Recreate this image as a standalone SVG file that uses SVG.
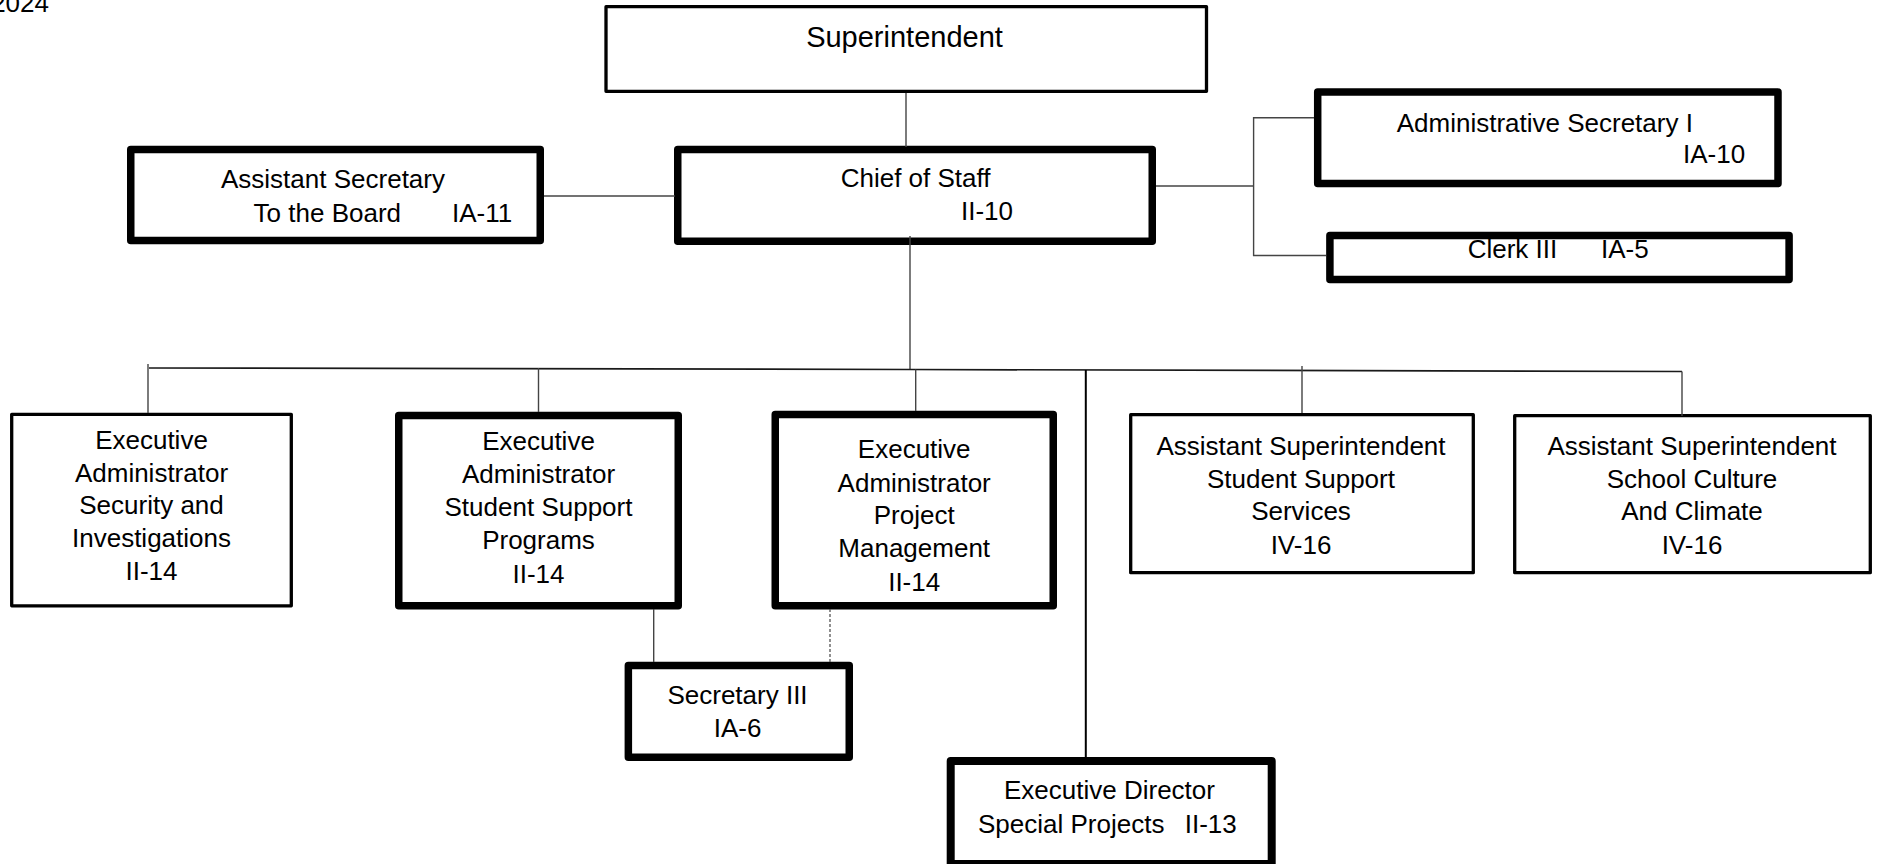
<svg xmlns="http://www.w3.org/2000/svg" width="1879" height="864" viewBox="0 0 1879 864">
  <style>
    .box { fill: #fff; stroke: #000; stroke-linejoin: round; }
    .thin { stroke-width: 3.3; }
    .thick { stroke-width: 7.5; }
    .t { font-family: "Liberation Sans", Arial, sans-serif; font-size: 26px; fill: #000; }
    .c { text-anchor: middle; }
    .title { font-size: 29px; }
    .wire { stroke: #444; stroke-width: 1.4; fill: none; }
    .bus { stroke: #1a1a1a; stroke-width: 1.7; fill: none; }
    .dash { stroke: #555; stroke-width: 1.3; stroke-dasharray: 3 2; fill: none; }
  </style>
  <rect width="1879" height="864" fill="#fff"/>

  <!-- date label, clipped at the page edge -->
  <text class="t" x="49" y="12" text-anchor="end">2024</text>

  <g id="superintendent">
    <rect class="box thin" x="606" y="6.7" width="600.5" height="84.6"/>
    <text class="t c title" x="904.5" y="47.3">Superintendent</text>
  </g>

  <g id="chief-of-staff">
    <rect class="box thick" x="677.75" y="149.5" width="474.5" height="91.75"/>
    <text class="t" x="840.7" y="187">Chief of Staff</text>
    <text class="t" x="961" y="220">II-10</text>
  </g>

  <g id="assistant-secretary-board">
    <rect class="box thick" x="130.75" y="149.5" width="409.5" height="91"/>
    <text class="t" x="221" y="188.3">Assistant Secretary</text>
    <text class="t" y="221.7"><tspan x="253.6">To the Board</tspan> <tspan x="452">IA-11</tspan></text>
  </g>

  <g id="administrative-secretary">
    <rect class="box thick" x="1317.7" y="92" width="460.3" height="91.6"/>
    <text class="t" x="1396.7" y="131.7">Administrative Secretary I</text>
    <text class="t" x="1683" y="163.3">IA-10</text>
  </g>

  <g id="clerk-iii">
    <rect class="box thick" x="1329.9" y="235.5" width="459.2" height="44"/>
    <text class="t" y="258.3"><tspan x="1467.7">Clerk III</tspan> <tspan x="1601">IA-5</tspan></text>
  </g>

  <g id="exec-admin-security">
    <rect class="box thin" x="11.7" y="414.3" width="279.6" height="191.5"/>
    <text class="t c" x="151.5" y="449">Executive</text>
    <text class="t c" x="151.5" y="481.7">Administrator</text>
    <text class="t c" x="151.5" y="514">Security and</text>
    <text class="t c" x="151.5" y="546.7">Investigations</text>
    <text class="t c" x="151.5" y="580">II-14</text>
  </g>

  <g id="exec-admin-student-support">
    <rect class="box thick" x="398.75" y="415.5" width="279.5" height="190.3"/>
    <text class="t c" x="538.5" y="450">Executive</text>
    <text class="t c" x="538.5" y="483">Administrator</text>
    <text class="t c" x="538.5" y="516">Student Support</text>
    <text class="t c" x="538.5" y="549">Programs</text>
    <text class="t c" x="538.5" y="582.5">II-14</text>
  </g>

  <g id="exec-admin-project-management">
    <rect class="box thick" x="775.25" y="414.5" width="278" height="191.3"/>
    <text class="t c" x="914.2" y="458">Executive</text>
    <text class="t c" x="914.2" y="491.7">Administrator</text>
    <text class="t c" x="914.2" y="523.5">Project</text>
    <text class="t c" x="914.2" y="557">Management</text>
    <text class="t c" x="914.2" y="590.5">II-14</text>
  </g>

  <g id="asst-supt-student-support">
    <rect class="box thin" x="1130.7" y="414.7" width="342.6" height="158"/>
    <text class="t c" x="1301" y="455">Assistant Superintendent</text>
    <text class="t c" x="1301" y="487.5">Student Support</text>
    <text class="t c" x="1301" y="520">Services</text>
    <text class="t c" x="1301" y="554">IV-16</text>
  </g>

  <g id="asst-supt-school-culture">
    <rect class="box thin" x="1514.7" y="415.7" width="355.6" height="157"/>
    <text class="t c" x="1692" y="455">Assistant Superintendent</text>
    <text class="t c" x="1692" y="487.5">School Culture</text>
    <text class="t c" x="1692" y="520">And Climate</text>
    <text class="t c" x="1692" y="554">IV-16</text>
  </g>

  <g id="secretary-iii">
    <rect class="box thick" x="628.35" y="665.5" width="220.9" height="91.75"/>
    <text class="t c" x="737.5" y="704">Secretary III</text>
    <text class="t c" x="737.5" y="737">IA-6</text>
  </g>

  <g id="exec-director-special-projects">
    <rect class="box thick" x="950.7" y="761" width="321" height="103" style="stroke-width:8"/>
    <text class="t" x="1004" y="799.3">Executive Director</text>
    <text class="t" y="832.7"><tspan x="978">Special Projects</tspan> <tspan x="1184.7">II-13</tspan></text>
  </g>

  <!-- connectors, drawn over the box borders they meet -->
  <g id="connectors">
    <!-- Superintendent to Chief of Staff -->
    <line class="wire" x1="906" y1="93" x2="906" y2="147"/>
    <!-- Assistant Secretary to Chief of Staff -->
    <line class="wire" x1="544" y1="196" x2="675" y2="196"/>
    <!-- Chief of Staff to secretary bracket -->
    <polyline class="wire" points="1156,186 1253.6,186"/>
    <polyline class="wire" points="1314,117.7 1253.6,117.7 1253.6,255.5 1326,255.5"/>
    <!-- Chief of Staff down to the bus -->
    <line class="wire" x1="910" y1="236" x2="910" y2="369.5"/>
    <!-- horizontal bus -->
    <polyline class="bus" points="149,368 910,369.5 1682,371.5"/>
    <!-- drops from the bus -->
    <line class="wire" x1="148" y1="364" x2="148" y2="413"/>
    <line class="wire" x1="538.5" y1="368" x2="538.5" y2="412"/>
    <line class="wire" x1="915.7" y1="369.5" x2="915.7" y2="411"/>
    <line x1="1085.8" y1="370" x2="1085.8" y2="758" stroke="#000" stroke-width="2"/>
    <line class="wire" x1="1302" y1="366" x2="1302" y2="413"/>
    <line class="wire" x1="1682" y1="371.5" x2="1682" y2="416"/>
    <!-- Secretary III links -->
    <line class="wire" x1="653.7" y1="609" x2="653.7" y2="662"/>
    <line class="dash" x1="830" y1="609" x2="830" y2="662"/>
  </g>
</svg>
